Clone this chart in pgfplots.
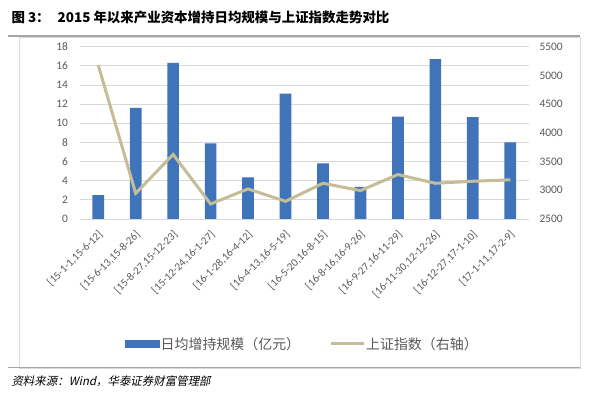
\documentclass[border=0pt]{standalone}
\usepackage{pgfplots}
\pgfplotsset{compat=1.18}
\usepackage{fontspec}
\setmainfont{Carlito}
\newfontfamily\cjk{Noto Sans CJK SC}
\newfontfamily\cjkit[FakeSlant=0.2]{Noto Sans CJK SC}
\definecolor{barblue}{HTML}{3F73BA}
\definecolor{tanline}{HTML}{C4BD97}
\definecolor{txt}{HTML}{595959}
\definecolor{gridc}{HTML}{D9D9D9}
\newcommand{\rl}[1]{\rotatebox{45}{#1}}
\begin{document}
\begin{tikzpicture}
\path[fill=white] (0bp,0bp) rectangle (600bp,396bp);
% frame
\draw[gridc, line width=0.8bp] (19bp,359bp) rectangle (580bp,28bp);
\draw[gray!70, line width=1.3bp] (8bp,360bp) -- (580bp,360bp);
\draw[gray!70, line width=1bp] (8bp,28bp) -- (580bp,28bp);
\node[anchor=west, font=\cjk\bfseries\fontsize{13.5}{15}\selectfont] at (8bp,379bp) {图 3：\hspace{8bp}2015 年以来产业资本增持日均规模与上证指数走势对比};
\node[anchor=west, font=\cjkit\fontsize{11.5}{13}\selectfont] at (8bp,15bp) {资料来源：Wind，华泰证券财富管理部};

\begin{axis}[
  at={(79.5bp,177bp)}, anchor=south west,
  scale only axis, width=449.5bp, height=172.3bp,
  xmin=-0.5, xmax=11.5, ymin=0, ymax=18,
  ytick={0,2,...,18},
  xtick={0,...,11},
  xticklabels={{\rl{[15-1-1,15-6-12]}},{\rl{[15-6-13,15-8-26]}},{\rl{[15-8-27,15-12-23]}},{\rl{[15-12-24,16-1-27]}},{\rl{[16-1-28,16-4-12]}},{\rl{[16-4-13,16-5-19]}},{\rl{[16-5-20,16-8-15]}},{\rl{[16-8-16,16-9-26]}},{\rl{[16-9-27,16-11-29]}},{\rl{[16-11-30,12-12-26]}},{\rl{[16-12-27,17-1-10]}},{\rl{[17-1-11,17-2-9]}}},
  axis line style={draw=none},
  major tick length=0pt,
  ymajorgrids, grid style={gridc, line width=0.8bp},
  /pgf/number format/assume math mode=true,
  yticklabel style={font=\fontsize{11.5}{12}\selectfont, text=txt, xshift=-8bp},
  xticklabel style={font=\fontsize{11}{12}\selectfont, text=txt, anchor=north east, inner sep=0pt, xshift=6bp, yshift=-10bp},
]
\draw[gridc, line width=0.8bp] (axis cs:-0.5,0) -- (axis cs:11.5,0);
\addplot[ybar, bar width=11.7bp, fill=barblue, draw=none] coordinates {
(0,2.5) (1,11.6) (2,16.3) (3,7.9) (4,4.35) (5,13.1) (6,5.8) (7,3.35) (8,10.7) (9,16.7) (10,10.65) (11,8.0)
};
\end{axis}

\begin{axis}[
  at={(79.5bp,177bp)}, anchor=south west,
  scale only axis, width=449.5bp, height=172.3bp,
  xmin=-0.5, xmax=11.5, ymin=2500, ymax=5500,
  ytick={2500,3000,...,5500},
  axis y line*=right,
  axis x line=none,
  axis line style={draw=none},
  major tick length=0pt,
  /pgf/number format/assume math mode=true,
  /pgf/number format/1000 sep={},
  yticklabel style={font=\fontsize{11.5}{12}\selectfont, text=txt, xshift=7bp},
  legend columns=2,
  legend style={at={(0.495,-0.725)}, anchor=center, draw=none, fill=none,
    font=\cjk\fontsize{14}{16}\selectfont, text=txt,
    nodes={inner xsep=1bp},
    /tikz/every even column/.append style={column sep=28bp}},
]
\addlegendimage{legend image code/.code={\fill[barblue] (0bp,-3.5bp) rectangle (34bp,3.5bp);}}
\addlegendentry{日均增持规模（亿元）}
\addplot[tanline, line width=3bp, mark=none, legend image code/.code={\draw[tanline, line width=3bp] (0bp,0bp) -- (33bp,0bp);}] coordinates {
(0,5180) (1,2947) (2,3624) (3,2762) (4,3024) (5,2808) (6,3122) (7,2995) (8,3274) (9,3122) (10,3157) (11,3182)
};
\addlegendentry{上证指数（右轴）}
\end{axis}
\end{tikzpicture}
\end{document}
